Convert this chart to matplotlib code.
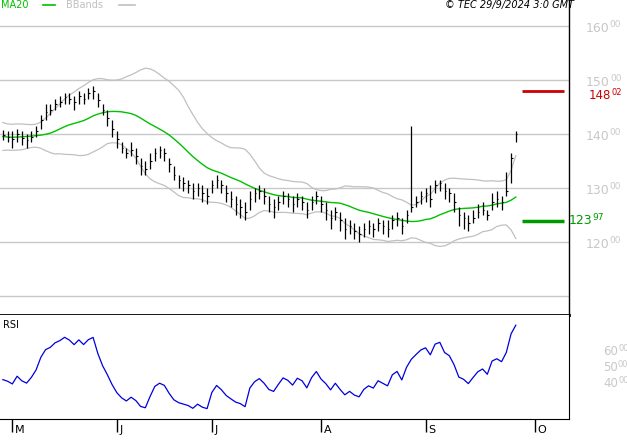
import matplotlib.pyplot as plt
import pandas as pd
import numpy as np

# closes before the visible window (only feed the MA / bands / RSI)
pre_closes = [142.0, 141.5, 140.0, 139.0, 138.5, 137.5, 138.0, 139.0, 140.5, 141.0,
              140.0, 138.5, 137.5, 138.5, 139.5, 141.0, 142.0, 141.0, 139.5, 138.5]
closes = [139.8, 139.5, 139.0, 140.0, 139.2, 138.8, 139.5, 140.5, 142.5, 144.0,
          144.5, 145.5, 146.0, 146.8, 146.5, 146.0, 147.0, 146.5, 147.5, 148.0,
          146.2, 144.5, 143.0, 141.0, 139.0, 137.5, 136.5, 137.0, 136.0, 134.0,
          133.5, 135.0, 136.5, 137.0, 136.5, 134.5, 132.5, 131.5, 131.0, 130.5,
          129.5, 130.0, 129.0, 128.5, 130.5, 131.5, 130.5, 129.0, 128.0, 127.0,
          126.5, 125.5, 128.0, 129.0, 129.5, 128.5, 127.0, 126.5, 127.5, 128.5,
          128.0, 127.0, 128.0, 127.5, 126.0, 127.5, 128.5, 127.0, 126.0, 124.5,
          125.5, 124.0, 122.5, 123.0, 122.0, 121.5, 122.5, 123.0, 122.5, 123.5,
          123.0, 122.5, 124.0, 124.5, 123.0, 125.0, 126.5, 127.5, 128.5, 129.0,
          128.0, 130.5, 131.0, 129.5, 129.0, 127.5, 125.0, 124.5, 123.5, 124.5,
          125.5, 126.0, 125.0, 127.5, 128.0, 127.5, 129.5, 135.5, 140.0]
highs = [140.8, 140.6, 140.5, 141.0, 140.5, 140.0, 140.5, 141.5, 143.5, 145.5,
         145.5, 146.5, 147.0, 147.5, 147.5, 147.0, 148.0, 147.5, 148.5, 148.8,
         147.5, 145.5, 144.5, 142.5, 140.5, 138.5, 137.5, 138.5, 137.5, 135.5,
         135.0, 136.5, 137.5, 137.8, 137.5, 135.5, 134.0, 132.5, 132.0, 131.5,
         131.0, 131.0, 130.5, 130.0, 131.5, 132.5, 131.5, 130.5, 129.5, 128.5,
         128.0, 127.5, 129.5, 130.0, 130.5, 130.0, 128.5, 128.0, 128.5, 129.5,
         129.0, 128.5, 129.0, 128.5, 127.5, 128.5, 129.5, 128.5, 127.5, 126.0,
         126.5, 125.5, 124.5, 124.0, 123.5, 123.0, 123.5, 124.0, 123.5, 124.5,
         124.0, 124.0, 125.0, 125.5, 124.5, 126.0, 141.5, 128.5, 129.5, 130.0,
         130.5, 131.5, 131.5, 131.0, 130.0, 129.0, 126.5, 125.5, 125.0, 126.0,
         127.0, 127.5, 126.0, 129.0, 129.5, 128.5, 133.0, 136.5, 140.5]
lows = [138.8, 138.5, 137.5, 138.5, 138.0, 137.5, 138.5, 139.5, 141.0, 142.5,
        143.5, 144.5, 145.0, 145.5, 145.5, 144.5, 145.5, 145.5, 146.5, 146.5,
        145.0, 143.5, 141.5, 139.5, 137.5, 136.5, 135.5, 136.0, 134.5, 132.5,
        132.5, 133.5, 135.0, 135.5, 135.0, 133.0, 131.5, 130.0, 129.5, 129.0,
        128.0, 128.5, 127.5, 127.0, 129.0, 130.0, 129.0, 127.5, 126.5, 125.0,
        124.5, 124.0, 126.0, 127.5, 128.0, 127.0, 125.5, 124.5, 126.0, 127.0,
        126.5, 125.5, 126.5, 126.0, 124.5, 126.0, 127.0, 125.5, 124.0, 122.5,
        124.0, 122.0, 120.5, 121.5, 120.5, 120.0, 121.0, 121.5, 121.0, 122.0,
        121.5, 121.0, 122.5, 123.0, 121.5, 123.5, 125.5, 126.5, 127.0, 127.5,
        126.5, 129.0, 129.5, 128.0, 127.5, 125.5, 123.0, 122.5, 122.0, 123.5,
        124.5, 125.0, 124.0, 126.0, 126.5, 126.0, 128.5, 131.0, 138.5]
month_labels = ["M", "J", "J", "A", "S", "O"]
month_pos = [2, 24, 44, 67, 89, 112]
price_ticks = [160, 150, 140, 130, 120]
rsi_ticks = [60, 50, 40]
last_upper = 148.02
last_ma = 123.97

npre = len(pre_closes)
full = pd.Series(pre_closes + closes)
ma_full = full.rolling(20, min_periods=1).mean()
sd_full = full.rolling(20, min_periods=2).std(ddof=0)
delta = full.diff()
gain = delta.clip(lower=0).ewm(alpha=1 / 14, adjust=False).mean()
loss = (-delta.clip(upper=0)).ewm(alpha=1 / 14, adjust=False).mean()
rsi_full = 100 - 100 / (1 + gain / loss)

df = pd.DataFrame({"close": closes, "high": highs, "low": lows})
x = np.arange(len(df))
ma = ma_full.iloc[npre:].to_numpy()
sd = sd_full.iloc[npre:].to_numpy()
upper = ma + 2 * sd
lower = ma - 2 * sd
rsi = rsi_full.iloc[npre:].to_numpy()

fig = plt.figure(figsize=(6.27, 4.40), dpi=100)
W, H = 627, 440
xmin, xmax = -0.6, 119.2
price_ax = fig.add_axes([0, (H - 315) / H, 569 / W, 315 / H])
rsi_ax = fig.add_axes([0, (H - 419) / H, 569 / W, 104 / H])

# price panel
price_ax.set_xlim(xmin, xmax)
price_ax.set_ylim(106.5, 164.8)
for v in [160, 150, 140, 130, 120, 110]:
    price_ax.axhline(v, color="#c8c8c8", lw=1)
price_ax.plot(x, upper, color="#c0c0c0", lw=0.9)
price_ax.plot(x, lower, color="#c0c0c0", lw=0.9)
price_ax.plot(x, ma, color="#00c000", lw=1)
price_ax.vlines(x, df["low"], df["high"], color="black", lw=0.9)
price_ax.hlines(df["close"], x, x + 0.35, color="black", lw=0.8)
price_ax.hlines(last_upper, 109.3, 118.2, color="#cc0000", lw=2)
price_ax.hlines(last_ma, 109.3, 118.2, color="#009900", lw=2.5)
for s in ["left", "top"]:
    price_ax.spines[s].set_visible(False)
price_ax.spines["right"].set_linewidth(1)
price_ax.spines["bottom"].set_linewidth(2)
price_ax.set_xticks([])
price_ax.set_yticks([])

def two_part(ax, xf, yv, big, small, color, fs=9):
    t = ax.text(xf, yv, big, transform=ax.get_yaxis_transform(), color=color,
                fontsize=fs, va="center", ha="left")
    fig.canvas.draw()
    bb = t.get_window_extent()
    fig.text(bb.x1 / W, bb.y0 / H + 0.012, small, color=color, fontsize=fs - 2.5,
             va="bottom", ha="left")

for v in price_ticks:
    two_part(price_ax, 1.03, v - 0.4, str(v), "00", "#c8c8c8")
two_part(price_ax, 1.035, last_upper - 0.9, "148", "02", "#cc0000", fs=8.5)
two_part(price_ax, 1.0, last_ma, "123", "97", "#009900")

fig.text(0.002, 0.988, "MA20", color="#00c000", fontsize=7, va="center")
fig.add_artist(plt.Line2D([0.068, 0.088], [0.988, 0.988], color="#00c000", lw=1.2))
fig.text(0.105, 0.988, "BBands", color="#c0c0c0", fontsize=7, va="center")
fig.add_artist(plt.Line2D([0.19, 0.215], [0.988, 0.988], color="#c0c0c0", lw=1.2))
fig.text(0.915, 0.988, "\u00a9 TEC 29/9/2024 3:0 GMT", fontsize=7,
         style="italic", ha="right", va="center")

# rsi panel
rsi_ax.set_xlim(xmin, xmax)
rsi_ax.set_ylim(18, 83)
rsi_ax.plot(x, rsi, color="#0000dd", lw=0.9)
rsi_ax.spines["left"].set_visible(False)
rsi_ax.spines["top"].set_visible(False)
rsi_ax.set_yticks([])
rsi_ax.set_xticks(month_pos)
rsi_ax.set_xticklabels([])
rsi_ax.tick_params(axis="x", length=9, width=1, direction="out")
for p, lab in zip(month_pos, month_labels):
    rsi_ax.annotate(lab, (p, 0), xycoords=("data", "axes fraction"),
                    xytext=(2, -4), textcoords="offset points",
                    ha="left", va="top", fontsize=8)
rsi_ax.text(0.005, 0.9, "RSI", transform=rsi_ax.transAxes, fontsize=7, va="center")
for v in rsi_ticks:
    two_part(rsi_ax, 1.06, v, str(v), "00", "#c8c8c8", fs=8.5)

fig.savefig("out.png", dpi=100)
